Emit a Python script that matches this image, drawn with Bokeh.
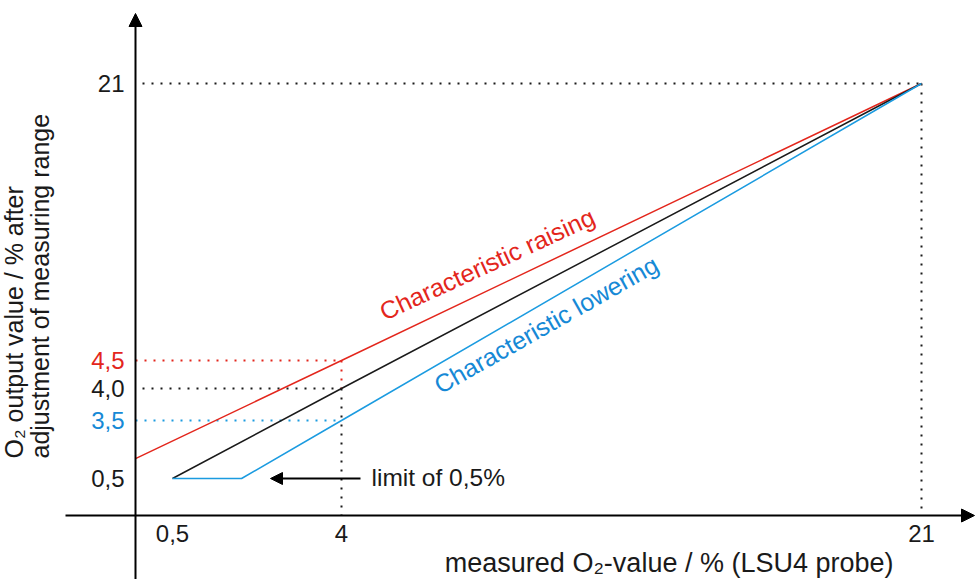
import numpy as np
from bokeh.plotting import figure
from bokeh.models import Range1d, Arrow, NormalHead
from bokeh.embed import file_html
from bokeh.resources import INLINE
from bokeh.core.properties import value

# ---------------- data ----------------
x_ticks = [0.5, 4, 21]
x_tick_labels = ["0,5", "4", "21"]
y_ticks = [0.5, 3.5, 4.0, 4.5, 21]
y_tick_labels = ["0,5", "3,5", "4,0", "4,5", "21"]

ideal_x = [0.5, 4, 21]
ideal_y = [0.5, 4.0, 21]
raising_x = [0, 4, 21]
raising_y = [1.53, 4.5, 21]
lowering_x = [0.5, 1.93, 4, 21]
lowering_y = [0.5, 0.5, 3.5, 21]
limit_value = 0.5

# ---------------- schematic (non-linear) scale ----------------
X_SCALE_VALUES = [0, 0.5, 4, 21]
X_SCALE_POS = [0, 37, 206, 786]
Y_SCALE_VALUES = [0, 0.5, 3.5, 4, 4.5, 21]
Y_SCALE_POS = [0, 37, 95, 127, 155, 432]


def sx(v):
    return np.interp(v, X_SCALE_VALUES, X_SCALE_POS)


def sy(v):
    return np.interp(v, Y_SCALE_VALUES, Y_SCALE_POS)


RED = "#e3261c"
BLUE = "#1b9be0"
BLUE_TXT = "#1689d6"
BLACK = "#1a1a1a"
FONT = value("Liberation Sans")
DOT = "2 7"

p = figure(width=975, height=579, x_range=Range1d(-135, 840), y_range=Range1d(-64, 515),
           output_backend="svg", toolbar_location=None, x_axis_type=None, y_axis_type=None,
           min_border=0, outline_line_color=None)
p.grid.visible = False

# dotted guide lines
p.segment(x0=[sx(0)], y0=[sy(4.5)], x1=[sx(4)], y1=[sy(4.5)], line_color=RED, line_width=2, line_dash=DOT)
p.segment(x0=[sx(0)], y0=[sy(3.5)], x1=[sx(4)], y1=[sy(3.5)], line_color=BLUE, line_width=2, line_dash=DOT)
p.segment(x0=[sx(0)], y0=[sy(4.0)], x1=[sx(4)], y1=[sy(4.0)], line_color=BLACK, line_width=2,
          line_dash=DOT, line_dash_offset=2)
p.segment(x0=[sx(0)], y0=[sy(21)], x1=[sx(21)], y1=[sy(21)], line_color=BLACK, line_width=2,
          line_dash=DOT, line_dash_offset=2)
p.segment(x0=[sx(4)], y0=[sy(4.5)], x1=[sx(4)], y1=[sy(4.0)], line_color=RED, line_width=2, line_dash=DOT)
p.segment(x0=[sx(4)], y0=[sy(4.0)], x1=[sx(4)], y1=[sy(0)], line_color=BLACK, line_width=2, line_dash=DOT)
p.segment(x0=[sx(21)], y0=[sy(21)], x1=[sx(21)], y1=[sy(0)], line_color=BLACK, line_width=2, line_dash=DOT)

# characteristic lines
p.line(sx(raising_x), sy(raising_y), line_color=RED, line_width=1.5)
p.line(sx(ideal_x), sy(ideal_y), line_color=BLACK, line_width=1.5)
p.line(sx(lowering_x), sy(lowering_y), line_color=BLUE, line_width=1.5)

# axes with arrow heads
p.add_layout(Arrow(end=NormalHead(size=13, fill_color="black", line_color="black"),
                   x_start=-70, y_start=sy(0), x_end=839, y_end=sy(0), line_width=2, line_color="black"))
p.add_layout(Arrow(end=NormalHead(size=13, fill_color="black", line_color="black"),
                   x_start=sx(0), y_start=-66, x_end=sx(0), y_end=502, line_width=2, line_color="black"))

# limit arrow
p.add_layout(Arrow(end=NormalHead(size=12, fill_color="black", line_color="black"),
                   x_start=225, y_start=sy(limit_value), x_end=135, y_end=sy(limit_value),
                   line_width=2, line_color="black"))
p.text(x=[236], y=[sy(limit_value) + 1], text=["limit of 0,5%"], text_font=FONT, text_font_size="24.5px",
       text_align="left", text_baseline="middle", text_color=BLACK)

# tick labels
y_colors = [BLACK, BLUE_TXT, BLACK, RED, BLACK]
p.text(x=[-11] * len(y_ticks), y=sy(y_ticks), text=y_tick_labels, text_color=y_colors,
       text_font=FONT, text_font_size="24px", text_align="right", text_baseline="middle")
p.text(x=sx(x_ticks), y=[-18] * len(x_ticks), text=x_tick_labels, text_color=BLACK,
       text_font=FONT, text_font_size="24px", text_align="center", text_baseline="middle")

# axis titles
p.text(x=[758], y=[-47.5], text=["measured O\u2082-value / % (LSU4 probe)"], text_color=BLACK,
       text_font=FONT, text_font_size="27px", text_align="right", text_baseline="middle")
p.text(x=[-122, -96], y=[57, 57], text=["O\u2082 output value / % after", "adjustment of measuring range"],
       angle=np.pi / 2, text_color=BLACK, text_font=FONT, text_font_size="25px",
       text_align="left", text_baseline="middle")

# curve labels
p.text(x=[351.5], y=[251.5], text=["Characteristic raising"], angle=np.deg2rad(24.7), text_color=RED,
       text_font=FONT, text_font_size="25px", text_align="center", text_baseline="middle")
p.text(x=[410.6], y=[191], text=["Characteristic lowering"], angle=np.deg2rad(29.5), text_color=BLUE_TXT,
       text_font=FONT, text_font_size="25px", text_align="center", text_baseline="middle")

open("out.html", "w").write(file_html(p, INLINE))
